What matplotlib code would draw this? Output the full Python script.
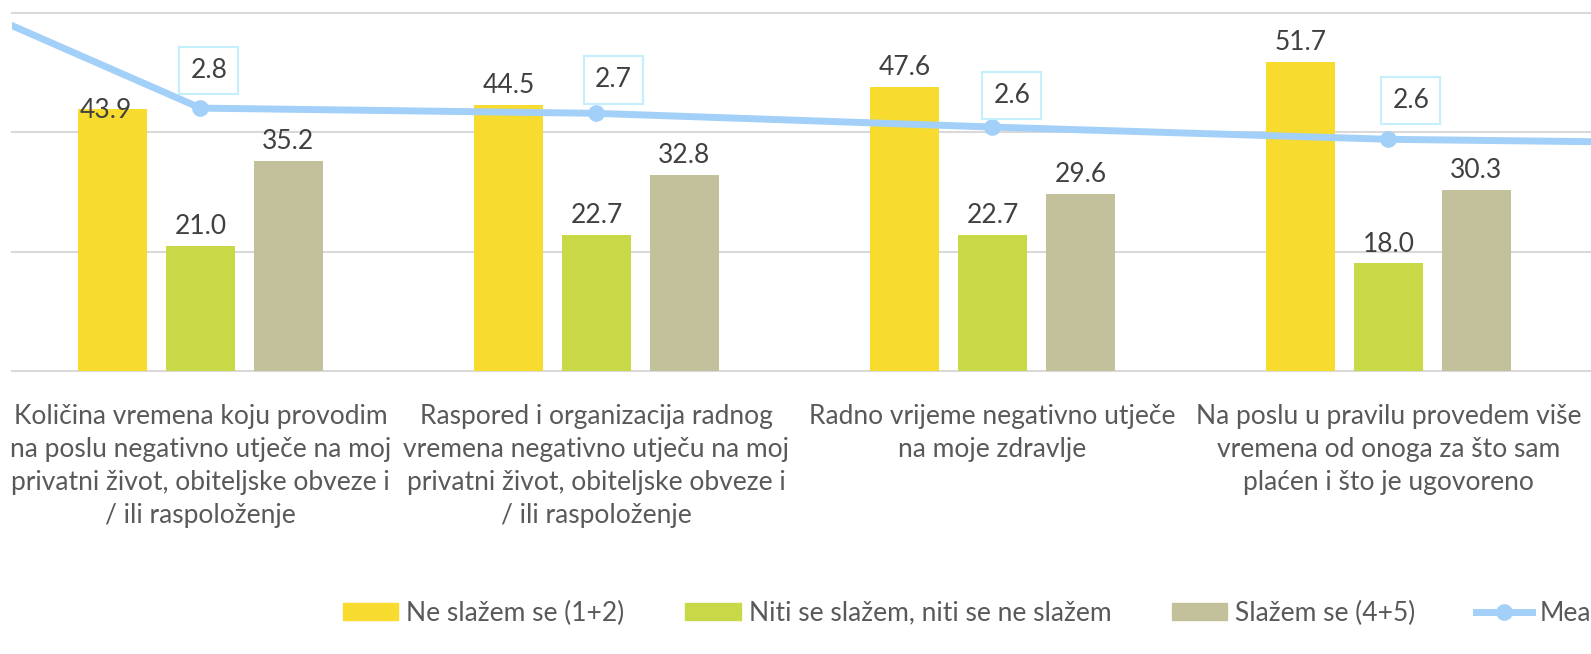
import matplotlib
matplotlib.use("Agg")
import matplotlib.pyplot as plt
import numpy as np
from matplotlib.patches import Patch
from matplotlib.lines import Line2D

plt.rcParams['font.family'] = ['Lato', 'DejaVu Sans']

categories = [
    "Količina vremena koju provodim\nna poslu negativno utječe na moj\nprivatni život, obiteljske obveze i\n/ ili raspoloženje",
    "Raspored i organizacija radnog\nvremena negativno utječu na moj\nprivatni život, obiteljske obveze i\n/ ili raspoloženje",
    "Radno vrijeme negativno utječe\nna moje zdravlje",
    "Na poslu u pravilu provedem više\nvremena od onoga za što sam\nplaćen i što je ugovoreno",
]
series_names = ["Ne slažem se (1+2)", "Niti se slažem, niti se ne slažem", "Slažem se (4+5)"]
disagree = [43.9, 44.5, 47.6, 51.7]
neutral = [21.0, 22.7, 22.7, 18.0]
agree = [35.2, 32.8, 29.6, 30.3]
mean_vals = [2.76, 2.725, 2.633, 2.551]
mean_labels = ["2.8", "2.7", "2.6", "2.6"]
# neighbouring (cropped-off) categories of the mean line
mean_prev = 3.92
mean_next = 2.52

colors = ["#F7DB2F", "#C8D846", "#C3C09C"]
line_color = "#A3D0F8"
W, H = 1591, 654
fig = plt.figure(figsize=(W / 100, H / 100), dpi=100)
ax = fig.add_axes([12 / W, (H - 371) / H, (W - 12) / W, (371 - 12.5) / H])

x = np.arange(len(categories))
bw = 69 / 396
off = 88 / 396
# label vertical offsets (points) per series / category
bar_label_dy = [[-10, 5, 5, 5], [5, 5, 5, 5], [5, 5, 5, 5]]
bar_label_dx = [[-5, 0, 0, 0], [0, 0, 0, 0], [0, 0, 0, 0]]
for i, (vals, c) in enumerate(zip([disagree, neutral, agree], colors)):
    xs = x + (i - 1) * off
    ax.bar(xs, vals, width=bw, color=c, zorder=2)
    for j, (xi, v) in enumerate(zip(xs, vals)):
        ax.annotate(f"{v:.1f}", (xi, v), xytext=(bar_label_dx[i][j], bar_label_dy[i][j]),
                    textcoords="offset points",
                    ha="center", va="bottom", fontsize=19, color="#404040", zorder=5)

ax.set_xlim(-0.476, -0.476 + (W - 12) / 396)
ax.set_ylim(0, 60)
for g in [0, 20, 40, 60]:
    ax.axhline(g, color="#D9D9D9", lw=1.5, zorder=1, clip_on=False)
for s in ax.spines.values():
    s.set_visible(False)
ax.set_yticks([])
ax.set_xticks(x)
ax.set_xticklabels(categories, fontsize=19, color="#595959", linespacing=1.4)
ax.tick_params(axis="x", length=0, pad=24)

ax2 = ax.twinx()
ax2.set_ylim(1.0, 3.4)
ax2.set_yticks([])
for s in ax2.spines.values():
    s.set_visible(False)
lx = np.concatenate([[-1], x, [len(x)]])
ly = [mean_prev] + mean_vals + [mean_next]
ax2.plot(lx, ly, color=line_color, lw=5, zorder=3)
ax2.plot(x, mean_vals, "o", color=line_color, ms=11, zorder=4)
label_offsets = [(6, 18), (12, 15), (14, 14), (16, 19)]
for xi, v, t, (dx, dy) in zip(x, mean_vals, mean_labels, label_offsets):
    ax2.annotate(t, (xi, v), xytext=(dx, dy), textcoords="offset points",
                 ha="center", va="bottom", fontsize=19, color="#404040",
                 bbox=dict(boxstyle="square,pad=0.42", fc="white", ec="#C6EFFE", lw=1.5),
                 zorder=6)

handles = [Patch(color=c) for c in colors] + [
    Line2D([0], [0], color=line_color, lw=5, marker="o", ms=11)]
fig.legend(handles, series_names + ["Mean"], loc="center left",
           bbox_to_anchor=(343 / W, 1 - 613 / H), ncol=4, frameon=False,
           fontsize=19, labelcolor="#595959", handlelength=2.1, handleheight=0.62,
           handletextpad=0.3, columnspacing=2.3, borderpad=0, borderaxespad=0)

fig.savefig("out.png", dpi=100)
